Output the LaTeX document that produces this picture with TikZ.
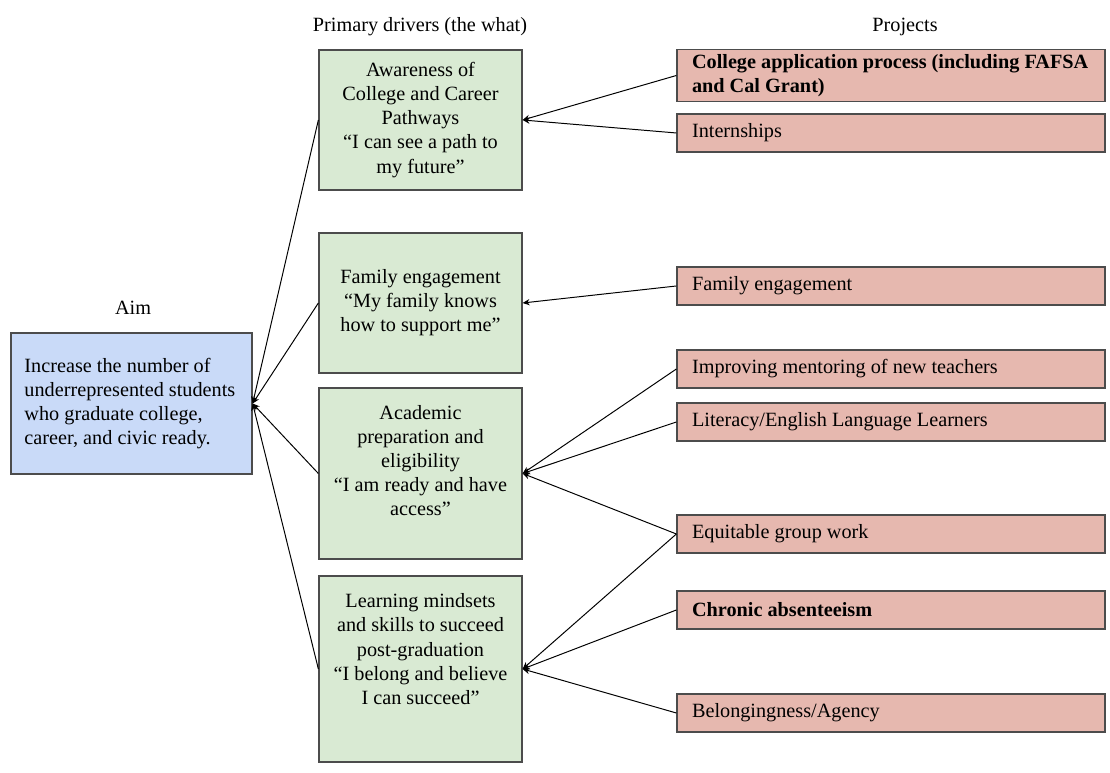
\documentclass[tikz,border=0pt]{standalone}
\usepackage{fontspec}
\setmainfont{Liberation Serif}
\usepackage{xcolor}
\usepackage{tikz}
\usetikzlibrary{shapes,arrows,arrows.meta,positioning}

\definecolor{aimblue}{RGB}{201,218,248}
\definecolor{drivergreen}{RGB}{217,234,211}
\definecolor{projectred}{RGB}{230,184,175}
\newcommand{\boxfont}{\fontsize{14.4}{17.1}\selectfont}

\begin{document}
\begin{tikzpicture}[
  aimbox/.style={draw=black!70, fill=aimblue, line width=0.9pt,
                 minimum width=6.025cm, minimum height=3.525cm,
                 text width=5.35cm, align=flush left, font=\boxfont},
  driver/.style={draw=black!70, fill=drivergreen, line width=0.9pt,
                 minimum width=5.075cm, align=center, font=\boxfont},
  project/.style={draw=black!70, fill=projectred, line width=0.9pt,
                  minimum width=10.7cm, minimum height=0.95cm,
                  text width=9.95cm, align=flush left, font=\boxfont},
  head/.style={font=\boxfont},
  link/.style={->, line width=0.7pt},
  >={Stealth[length=5pt,width=4.5pt]}
]
\useasboundingbox (0,0) rectangle (27.75,19.325);

% headings
\node[head] (aimhead)     at (3.325,11.625) {Aim};
\node[head] (driverhead)  at (10.5,18.65)   {Primary drivers (the what)};
\node[head] (projecthead) at (22.625,18.65) {Projects};

% aim
\node[aimbox] (aim) at (3.2875,9.2375)
  {Increase the number of\\underrepresented students\\who graduate college,\\career, and civic ready.};

% primary drivers
\node[driver, minimum height=3.5cm] (aware) at (10.5125,16.325)
  {Awareness of\\College and Career\\Pathways\\“I can see a path to\\my future”};
\node[driver, minimum height=3.5cm] (family) at (10.5125,11.75)
  {Family engagement\\“My family knows\\how to support me”};
\node[driver, minimum height=4.275cm, text depth=0.65cm] (academic) at (10.5125,7.4875)
  {Academic\\preparation and\\eligibility\\“I am ready and have\\access”};
\node[driver, minimum height=4.65cm, text depth=1.0cm] (mindsets) at (10.5125,2.6)
  {Learning mindsets\\and skills to succeed\\post-graduation\\“I belong and believe\\I can succeed”};

% projects
\node[project, minimum height=1.275cm] (collapp) at (22.275,17.4375)
  {\mbox{\textbf{College application process (including FAFSA}}\\\textbf{and Cal Grant)}};
\node[project] (intern)    at (22.275,16.0)   {Internships};
\node[project] (famproj)   at (22.275,12.175) {Family engagement};
\node[project] (mentor)    at (22.275,10.1)   {Improving mentoring of new teachers};
\node[project] (literacy)  at (22.275,8.775)  {Literacy/English Language Learners};
\node[project] (groupwork) at (22.275,5.975)  {Equitable group work};
\node[project] (absent)    at (22.275,4.075)  {\textbf{Chronic absenteeism}};
\node[project] (belong)    at (22.275,1.5)    {Belongingness/Agency};

% drivers to aim
\draw[link] (aware.west)    -- (aim.east);
\draw[link] (family.west)   -- (aim.east);
\draw[link] (academic.west) -- (aim.east);
\draw[link] (mindsets.west) -- (aim.east);

% projects to drivers
\draw[link] (collapp.west)   -- (aware.east);
\draw[link] (intern.west)    -- (aware.east);
\draw[link] (famproj.west)   -- (family.east);
\draw[link] (mentor.west)    -- (academic.east);
\draw[link] (literacy.west)  -- (academic.east);
\draw[link] (groupwork.west) -- (academic.east);
\draw[link] (groupwork.west) -- (mindsets.east);
\draw[link] (absent.west)    -- (mindsets.east);
\draw[link] (belong.west)    -- (mindsets.east);
\end{tikzpicture}
\end{document}
